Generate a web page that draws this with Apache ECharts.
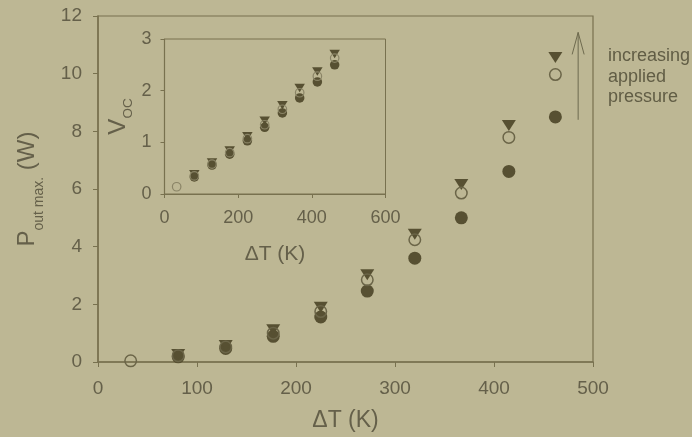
<!DOCTYPE html>
<html>
<head>
<meta charset="utf-8">
<script src="https://cdn.jsdelivr.net/npm/echarts@6/dist/echarts.min.js"></script>
<style>
html,body{margin:0;padding:0;background:#bdb794;}
#c{width:692px;height:437px;}
</style>
</head>
<body>
<div id="c"></div>
<script>
// Data
var deltaT = [33, 81, 129, 177, 225, 272, 320, 367, 415, 462];
var pFilled = [null, 0.18, 0.47, 0.89, 1.56, 2.46, 3.60, 5.00, 6.61, 8.50];
var pOpen   = [0.04, 0.22, 0.52, 1.00, 1.75, 2.85, 4.24, 5.86, 7.79, 9.97];
var pTri    = [null, 0.26, 0.57, 1.12, 1.90, 3.03, 4.43, 6.16, 8.20, 10.56];
var vFilled = [null, 0.33, 0.56, 0.77, 1.03, 1.29, 1.57, 1.86, 2.17, 2.50];
var vOpen   = [0.14, 0.35, 0.58, 0.80, 1.07, 1.34, 1.64, 1.96, 2.28, 2.63];
var vTri    = [null, 0.38, 0.61, 0.84, 1.12, 1.42, 1.72, 2.05, 2.37, 2.71];
var mainXTicks = [0, 100, 200, 300, 400, 500];
var mainYTicks = [0, 2, 4, 6, 8, 10, 12];
var insetXTicks = [0, 200, 400, 600];
var insetYTicks = [0, 1, 2, 3];
var annotationLines = ['increasing', 'applied', 'pressure'];

function pairs(xs, ys) {
  var out = [];
  for (var i = 0; i < xs.length; i++) if (ys[i] != null) out.push([xs[i], ys[i]]);
  return out;
}

var FONT = 'Liberation Sans, Arial, sans-serif';
var AXIS = '#78714f';
var TXT = '#65604a';
var DARK = '#575032';
var OPEN = '#6b6548';

var chart = echarts.init(document.getElementById('c'), null, {renderer: 'canvas'});

function axisX(gridIndex, ticks, fs, lw, tl, margin, name, nameFs, nameGap) {
  return {
    type: 'value', gridIndex: gridIndex,
    min: ticks[0], max: ticks[ticks.length - 1], interval: ticks[1] - ticks[0],
    axisLine: {show: true, lineStyle: {color: AXIS, width: lw}},
    axisTick: {show: true, inside: false, length: tl, lineStyle: {color: AXIS, width: 1}},
    axisLabel: {color: TXT, fontSize: fs, fontFamily: FONT, margin: margin},
    splitLine: {show: false},
    name: name, nameLocation: 'middle', nameGap: nameGap,
    nameTextStyle: {color: TXT, fontSize: nameFs, fontFamily: FONT}
  };
}

var option = {
  backgroundColor: '#bdb794',
  animation: false,
  grid: [
    {left: 97.3, top: 16, width: 495.7, height: 346.5, show: true, borderColor: AXIS, borderWidth: 1.2, backgroundColor: 'transparent'},
    {left: 164.5, top: 39, width: 221, height: 155, show: true, borderColor: AXIS, borderWidth: 1, backgroundColor: 'transparent'}
  ],
  xAxis: [
    axisX(0, mainXTicks, 19, 1.5, 5, 17, '\u0394T (K)', 23, 47),
    axisX(1, insetXTicks, 18, 1.2, 4, 15, '\u0394T (K)', 21, 50)
  ],
  yAxis: [
    {
      type: 'value', gridIndex: 0,
      min: mainYTicks[0], max: mainYTicks[mainYTicks.length - 1], interval: mainYTicks[1] - mainYTicks[0],
      axisLine: {show: true, lineStyle: {color: AXIS, width: 1.5}},
      axisTick: {show: true, length: 5, lineStyle: {color: AXIS, width: 1}},
      axisLabel: {color: TXT, fontSize: 19, fontFamily: FONT, margin: 16},
      splitLine: {show: false},
      name: '{p|P}{s|out max.}{p| (W)}', nameLocation: 'middle', nameRotate: 90, nameGap: 52,
      nameTextStyle: {
        color: TXT, fontFamily: FONT,
        rich: {
          p: {fontSize: 24, lineHeight: 38, color: TXT, fontFamily: FONT},
          s: {fontSize: 14, lineHeight: 14, padding: [24, 0, 0, 0], color: TXT, fontFamily: FONT}
        }
      }
    },
    {
      type: 'value', gridIndex: 1,
      min: insetYTicks[0], max: insetYTicks[insetYTicks.length - 1], interval: insetYTicks[1] - insetYTicks[0],
      axisLine: {show: true, lineStyle: {color: AXIS, width: 1.2}},
      axisTick: {show: true, length: 4, lineStyle: {color: AXIS, width: 1}},
      axisLabel: {color: TXT, fontSize: 18, fontFamily: FONT, margin: 13},
      splitLine: {show: false},
      name: '{p|V}{s|OC}', nameLocation: 'middle', nameRotate: 90, nameGap: 29,
      nameTextStyle: {
        color: TXT, fontFamily: FONT,
        rich: {
          p: {fontSize: 24, lineHeight: 34, color: TXT, fontFamily: FONT},
          s: {fontSize: 13.5, lineHeight: 14, padding: [20, 0, 0, 0], color: TXT, fontFamily: FONT}
        }
      }
    }
  ],
  series: [
    {type: 'scatter', xAxisIndex: 0, yAxisIndex: 0, data: pairs(deltaT, pFilled), symbol: 'circle', symbolSize: 13, itemStyle: {color: DARK, opacity: 1}, z: 2},
    {type: 'scatter', xAxisIndex: 0, yAxisIndex: 0, data: pairs(deltaT, pTri), symbol: 'triangle', symbolRotate: 180, symbolSize: [14, 11], itemStyle: {color: DARK, opacity: 1}, z: 3},
    {type: 'scatter', xAxisIndex: 0, yAxisIndex: 0, data: pairs(deltaT, pOpen), symbol: 'circle', symbolSize: 11.5, itemStyle: {color: 'rgba(0,0,0,0)', borderColor: OPEN, borderWidth: 1.5, opacity: 1}, z: 4},
    {type: 'scatter', xAxisIndex: 1, yAxisIndex: 1, data: pairs(deltaT, vFilled), symbol: 'circle', symbolSize: 9.5, itemStyle: {color: DARK, opacity: 1}, z: 2},
    {type: 'scatter', xAxisIndex: 1, yAxisIndex: 1, data: pairs(deltaT, vTri), symbol: 'triangle', symbolRotate: 180, symbolSize: [10.5, 8.5], itemStyle: {color: DARK, opacity: 1}, z: 3},
    {type: 'scatter', xAxisIndex: 1, yAxisIndex: 1, data: pairs(deltaT, vOpen), symbol: 'circle', symbolSize: 8.5, itemStyle: {color: 'rgba(0,0,0,0)', borderColor: '#8a8466', borderWidth: 1.2, opacity: 1}, z: 4}
  ]
};
chart.setOption(option);

// Annotation arrow anchored in data coordinates of the main plot
var arrowX = 485, arrowYBottom = 8.4, arrowYTop = 11.43;
var pb = chart.convertToPixel({xAxisIndex: 0, yAxisIndex: 0}, [arrowX, arrowYBottom]);
var pt = chart.convertToPixel({xAxisIndex: 0, yAxisIndex: 0}, [arrowX, arrowYTop]);
chart.setOption({
  graphic: [
    {type: 'line', shape: {x1: pb[0], y1: pb[1], x2: pt[0], y2: pt[1]}, style: {stroke: '#6e6a4e', lineWidth: 1}, z: 10},
    {type: 'polyline', shape: {points: [[pt[0] - 6, pt[1] + 22], [pt[0], pt[1]], [pt[0] + 6, pt[1] + 22]]}, style: {stroke: '#6e6a4e', lineWidth: 1, fill: null}, z: 10},
    {type: 'text', left: 608, top: 46, style: {text: annotationLines.join('\n'), fill: '#615d45', font: '18px ' + FONT, lineHeight: 20.5}, z: 10}
  ]
});
</script>
</body>
</html>
